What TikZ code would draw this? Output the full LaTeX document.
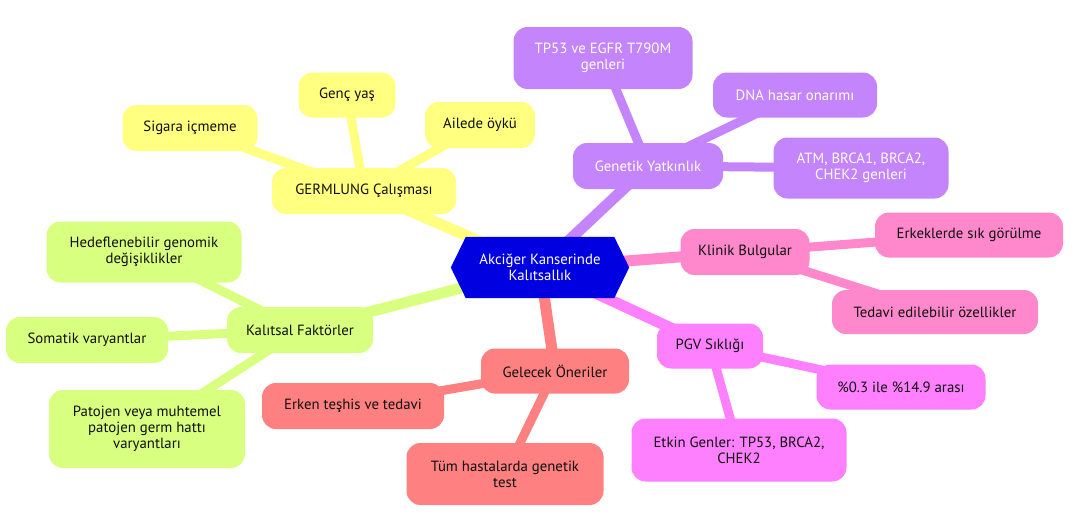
\documentclass[tikz,border=0pt]{standalone}
\usepackage{fontspec}
\setmainfont{PT Sans}
\pgfdeclarelayer{edges}
\pgfdeclarelayer{hexa}
\pgfsetlayers{edges,hexa,main}
\definecolor{cyel}{RGB}{255,255,128}
\definecolor{cpur}{RGB}{196,132,252}
\definecolor{cpink}{RGB}{255,136,204}
\definecolor{cmag}{RGB}{255,128,255}
\definecolor{csal}{RGB}{255,128,128}
\definecolor{cgrn}{RGB}{217,255,128}
\definecolor{cblue}{RGB}{0,0,224}
\definecolor{ctxt}{RGB}{15,15,15}
\begin{document}
\begin{tikzpicture}[x=1pt,y=-1pt,
  box/.style={rounded corners=14pt, align=center, inner sep=0pt, text=ctxt,
    font=\fontsize{14.8}{16}\selectfont},
  sz/.style 2 args={minimum width=#1pt, minimum height=#2pt},
  yel/.style={box, fill=cyel},
  pur/.style={box, fill=cpur, text=white},
  pink/.style={box, fill=cpink},
  mag/.style={box, fill=cmag},
  sal/.style={box, fill=csal},
  grn/.style={box, fill=cgrn},
  e1/.style={line width=11pt},
  e2/.style={line width=9pt}]
\useasboundingbox (0,0) rectangle (1080,522);

% root
\node[text=white, minimum width=178pt, minimum height=61pt, inner sep=0pt, align=center,
  font=\fontsize{14.8}{16}\selectfont] (root) at (540,267.5) {Akciğer Kanserinde\\Kalıtsallık};
\begin{pgfonlayer}{hexa}
\fill[cblue] (root.west) -- ([xshift=15pt]root.north west) -- ([xshift=-15pt]root.north east)
  -- (root.east) -- ([xshift=-15pt]root.south east) -- ([xshift=15pt]root.south west) -- cycle;
\end{pgfonlayer}

% yellow
\node[yel, sz={184}{46}] (germ) at (364,191) {GERMLUNG Çalışması};
\node[yel, sz={135}{46}] (sig) at (190,128) {Sigara içmeme};
\node[yel, sz={97}{45}] (genc) at (347,95) {Genç yaş};
\node[yel, sz={110}{46}] (aile) at (480,125) {Ailede öykü};

% purple
\node[pur, sz={150}{46}] (gen) at (648,166) {Genetik Yatkınlık};
\node[pur, sz={179}{62}] (tp) at (603,58) {TP53 ve EGFR T790M\\genleri};
\node[pur, sz={164}{45}] (dna) at (795,95) {DNA hasar onarımı};
\node[pur, sz={175}{61}] (atm) at (861,168) {ATM, BRCA1, BRCA2,\\CHEK2 genleri};

% pink
\node[pink, sz={129}{46}] (kli) at (745,252) {Klinik Bulgular};
\node[pink, sz={188}{45}] (erk) at (969,235) {Erkeklerde sık görülme};
\node[pink, sz={206}{44}] (ted) at (935,312) {Tedavi edilebilir özellikler};

% magenta
\node[mag, sz={106}{45}] (pgv) at (710,346) {PGV Sıklığı};
\node[mag, sz={169}{45}] (oran) at (901,387) {\%0.3 ile \%14.9 arası};
\node[mag, sz={215}{63}] (etk) at (739,450) {Etkin Genler: TP53, BRCA2,\\CHEK2};

% salmon
\node[sal, sz={148}{45}] (gel) at (555,371) {Gelecek Öneriler};
\node[sal, sz={182}{46}] (erken) at (353,406) {Erken teşhis ve tedavi};
\node[sal, sz={197}{62}] (tum) at (505,474) {Tüm hastalarda genetik\\test};

% green
\node[grn, sz={146}{46}] (kal) at (300,330) {Kalıtsal Faktörler};
\node[grn, sz={195}{61}] (hed) at (144,252) {Hedeflenebilir genomik\\değişiklikler};
\node[grn, sz={162}{46}] (som) at (87,340) {Somatik varyantlar};
\node[grn, sz={196}{78}] (pat) at (147,429) {Patojen veya muhtemel\\patojen germ hattı\\varyantları};

\begin{pgfonlayer}{edges}
\draw[cyel,e1] (root.center) -- (germ.center);
\draw[cyel,e2] (germ.center) -- (sig.center);
\draw[cyel,e2] (germ.center) -- (genc.center);
\draw[cyel,e2] (germ.center) -- (aile.center);
\draw[cpur,e1] (root.center) -- (gen.center);
\draw[cpur,e2] (gen.center) -- (tp.center);
\draw[cpur,e2] (gen.center) -- (dna.center);
\draw[cpur,e2] (gen.center) -- (atm.center);
\draw[cpink,e1] (root.center) -- (kli.center);
\draw[cpink,e2] (kli.center) -- (erk.center);
\draw[cpink,e2] (kli.center) -- (ted.center);
\draw[cmag,e1] (root.center) -- (pgv.center);
\draw[cmag,e2] (pgv.center) -- (oran.center);
\draw[cmag,e2] (pgv.center) -- (etk.center);
\draw[csal,e1] (root.center) -- (gel.center);
\draw[csal,e2] (gel.center) -- (erken.center);
\draw[csal,e2] (gel.center) -- (tum.center);
\draw[cgrn,e1] (root.center) -- (kal.center);
\draw[cgrn,e2] (kal.center) -- (hed.center);
\draw[cgrn,e2] (kal.center) -- (som.center);
\draw[cgrn,e2] (kal.center) -- (pat.center);
\end{pgfonlayer}
\end{tikzpicture}
\end{document}
